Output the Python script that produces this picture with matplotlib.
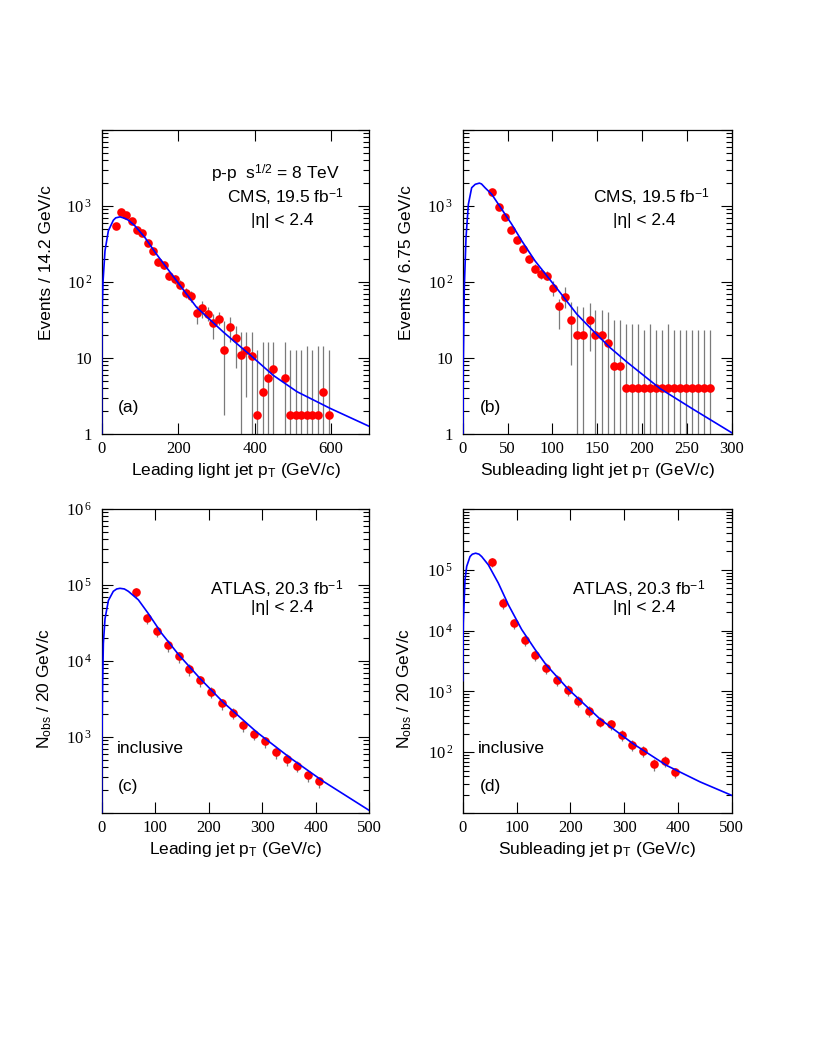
import matplotlib
matplotlib.use('Agg')
import matplotlib.pyplot as plt
from matplotlib.ticker import FixedLocator, FixedFormatter, LogLocator, NullFormatter

plt.rcParams['font.family'] = ['Liberation Sans', 'DejaVu Sans']
plt.rcParams['mathtext.fontset'] = 'custom'
plt.rcParams['mathtext.rm'] = 'Liberation Serif'
plt.rcParams['mathtext.sf'] = 'Liberation Sans'
plt.rcParams['mathtext.it'] = 'Liberation Serif:italic'

# ---- (a) CMS leading light jet
a_x = [36.6, 49.7, 63.6, 78.5, 92.4, 106.3, 120.3, 134.2, 148.2, 163.0, 177.0, 191.0, 205.7,
       219.7, 234.5, 248.4, 263.3, 277.2, 291.1, 306.8, 320.8, 335.6, 350.4, 364.4, 378.3,
       393.1, 407.0, 421.0, 435.0, 449.0, 478.5, 492.5, 507.3, 521.3, 536.1, 550.9, 565.7,
       579.7, 593.6]
a_y = [547, 826, 755, 636, 480, 438, 328, 255, 181, 165, 120, 108, 92, 72, 65, 39, 46, 38, 29,
       33, 12.7, 25.5, 18.1, 10.8, 12.7, 10.7, 1.79, 3.59, 5.47, 7.25, 5.47, 1.79, 1.79, 1.79,
       1.79, 1.79, 1.79, 3.59, 1.79]
a_lo = [500, 780, 710, 595, 445, 405, 300, 232, 163, 148, 106, 95, 80, 62, 55, 27.6, 34, 31,
        17.9, 26.8, 1.8, 16, 7.3, 0.5, 3.1, 0.5, 0.5, 0.5, 0.5, 0.5, 0.5, 0.5, 0.5, 0.5, 0.5,
        0.5, 0.5, 0.5, 0.5]
a_hi = [595, 875, 800, 680, 515, 470, 356, 280, 200, 183, 135, 122, 105, 83, 76, 49, 57, 46.5,
        38, 40, 31, 35, 26.7, 21.9, 21.9, 21.9, 12.6, 16.2, 16.2, 16.2, 16.2, 12.6, 12.6, 12.6,
        14.2, 12.6, 14.2, 14.2, 12.6]
a_cx = [0.03, 0.3, 1, 3.4, 8.6, 17.4, 30.5, 36.6, 48, 61, 70, 87, 113, 140, 166, 192, 248, 318,
        350, 388, 449, 511, 598, 700]
a_cy = [1, 11, 38, 100, 257, 472, 650, 698, 720, 686, 650, 548, 385, 245, 164, 110, 46.6, 22,
        16.0, 11.0, 5.9, 3.6, 2.17, 1.26]

# ---- (b) CMS subleading light jet
b_x = [33.1, 40.1, 46.8, 53.5, 60.2, 66.9, 74.0, 80.3, 87.4, 94.0, 100.7, 107.4, 114.5, 121.2,
       127.5, 134.6, 141.6, 148.0, 155.0, 161.7, 168.4, 175.1, 181.8, 188.6, 195.3, 202.1,
       208.8, 215.6, 222.3, 229.1, 235.8, 242.6, 249.3, 256.1, 262.8, 269.6, 276.3]
b_y = [1510, 970, 717, 490, 359, 271, 198, 150, 127, 121, 83, 48, 64, 31.8, 19.8, 19.8, 31.8,
       19.8, 19.8, 15.9, 7.85, 7.85, 4.0, 4.0, 4.0, 4.0, 4.0, 4.0, 4.0, 4.0, 4.0, 4.0, 4.0, 4.0,
       4.0, 4.0, 4.0]
b_lo = [1400, 900, 660, 450, 325, 243, 176, 132, 110, 105, 66, 24, 46, 8.0, 0.5, 0.5, 12.4,
        0.5, 0.5, 0.5, 0.5, 0.5, 0.5, 0.5, 0.5, 0.5, 0.5, 0.5, 0.5, 0.5, 0.5, 0.5, 0.5, 0.5,
        0.5, 0.5, 0.5]
b_hi = [1620, 1040, 775, 530, 393, 300, 222, 170, 155, 140, 104, 60, 85, 54, 49, 47.6, 52.6,
        43, 43, 40, 31.8, 31.8, 27.7, 27.7, 27.7, 23.5, 27.7, 23.5, 23.5, 27.7, 23.5, 23.5,
        23.5, 23.5, 23.5, 23.5, 23.5]
b_cx = [0.3, 0.7, 1.8, 3.7, 6.3, 10, 14, 18.6, 21, 24.9, 32.3, 43.5, 54.6, 65.8, 80.6, 108.5,
        127.1, 145.7, 164.3, 182.9, 220, 257.2, 300]
b_cy = [1, 9.3, 85, 385, 1050, 1740, 1930, 2000, 1950, 1740, 1430, 908, 577, 349, 190, 73, 38,
        22.6, 13.7, 8.9, 3.97, 2.11, 1.04]

# ---- (c) ATLAS leading jet
c_x = [64.8, 84.1, 103.4, 123.9, 143.8, 163.8, 184.3, 204.9, 224.8, 244.7, 264.6, 284.6,
       304.5, 325.0, 345.6, 365.5, 385.4, 405.4]
c_y = [80300, 36900, 24800, 16300, 11500, 7880, 5560, 3960, 2790, 2070, 1420, 1100, 879, 627,
       513, 416, 312, 261]
c_lo = [68000, 30500, 20500, 13300, 9300, 6400, 4550, 3250, 2300, 1700, 1170, 900, 720, 515,
        420, 345, 258, 216]
c_hi = [90000, 42000, 28500, 18800, 13300, 9100, 6400, 4550, 3200, 2400, 1640, 1270, 1010,
        720, 590, 480, 360, 300]
c_cx = [0.05, 0.5, 1.5, 3.1, 6.2, 12.5, 21.7, 28, 34.2, 42.3, 49.8, 68.5, 87.2, 112, 143.8,
        184.3, 227.3, 289.6, 351.8, 414, 500]
c_cy = [100, 1000, 4000, 17000, 36000, 62500, 82600, 88700, 90400, 88700, 82600, 63800, 42000,
        23100, 12100, 5830, 2850, 1160, 533, 261, 108]

# ---- (d) ATLAS subleading jet
d_x = [55.1, 74.4, 94.8, 115.3, 135.1, 154.9, 175.3, 195.2, 215.0, 235.5, 255.3, 275.1, 295.5,
       315.4, 334.6, 355.0, 375.5, 395.3]
d_y = [135000, 28400, 13100, 7060, 3960, 2460, 1560, 1060, 700, 480, 317, 287, 192, 132, 104,
       62.9, 71.2, 46.5]
d_lo = [112000, 23000, 10600, 5600, 3150, 1950, 1240, 850, 560, 385, 255, 230, 153, 106, 83,
        50, 57, 37]
d_hi = [158000, 34000, 15800, 8500, 4750, 2950, 1870, 1270, 840, 575, 380, 345, 230, 158, 125,
        76, 86, 56]
d_cx = [0.2, 1.1, 4.3, 7.4, 13.6, 17.9, 24.1, 30.3, 35.3, 47.6, 66.2, 84.8, 109.7, 134.4, 154.9,
        195.2, 255.3, 317.2, 379.2, 441.2, 500]
d_cy = [1500, 13400, 68500, 113500, 165000, 180700, 187500, 180700, 165000, 120800, 60500,
        26700, 10400, 4910, 2750, 1110, 351, 137, 60.4, 32.5, 19.5]

fig = plt.figure(figsize=(8.17, 10.58), dpi=100)

W = 1058.0
def box(left, right, top, bottom):
    return [left / 817.0, 1 - bottom / W, (right - left) / 817.0, (bottom - top) / W]

panels = [
    dict(pos=box(101.7, 369.3, 130, 434), x=a_x, y=a_y, lo=a_lo, hi=a_hi, cx=a_cx, cy=a_cy,
         xlim=(0, 700), xt=[0, 200, 400, 600], ylim=(1, 1e4),
         yt=[1, 10, 100, 1000, 1e4], ytl=['1', '10', r'$10^{\,2}$', r'$10^{\,3}$', ''],
         xlabel=r'Leading light jet p$_{\mathsf{T}}$ (GeV/c)', ylabel='Events / 14.2 GeV/c',
         ylab_y=0.5625, tag='(a)'),
    dict(pos=box(462.7, 731.7, 130, 434), x=b_x, y=b_y, lo=b_lo, hi=b_hi, cx=b_cx, cy=b_cy,
         xlim=(0, 300), xt=[0, 50, 100, 150, 200, 250, 300], ylim=(1, 1e4),
         yt=[1, 10, 100, 1000, 1e4], ytl=['1', '10', r'$10^{\,2}$', r'$10^{\,3}$', ''],
         xlabel=r'Subleading light jet p$_{\mathsf{T}}$ (GeV/c)', ylabel='Events / 6.75 GeV/c',
         ylab_y=0.5625, tag='(b)'),
    dict(pos=box(101.7, 369.3, 509, 813), x=c_x, y=c_y, lo=c_lo, hi=c_hi, cx=c_cx, cy=c_cy,
         xlim=(0, 500), xt=[0, 100, 200, 300, 400, 500], ylim=(100, 1e6),
         yt=[100, 1e3, 1e4, 1e5, 1e6],
         ytl=['', r'$10^{\,3}$', r'$10^{\,4}$', r'$10^{\,5}$', r'$10^{\,6}$'],
         xlabel=r'Leading jet p$_{\mathsf{T}}$ (GeV/c)',
         ylabel=r'N$_{\mathsf{obs}}$ / 20 GeV/c', ylab_y=0.41, tag='(c)'),
    dict(pos=box(462.7, 731.7, 509, 813), x=d_x, y=d_y, lo=d_lo, hi=d_hi, cx=d_cx, cy=d_cy,
         xlim=(0, 500), xt=[0, 100, 200, 300, 400, 500], ylim=(10, 1e6),
         yt=[10, 100, 1e3, 1e4, 1e5, 1e6],
         ytl=['', r'$10^{\,2}$', r'$10^{\,3}$', r'$10^{\,4}$', r'$10^{\,5}$', ''],
         xlabel=r'Subleading jet p$_{\mathsf{T}}$ (GeV/c)',
         ylabel=r'N$_{\mathsf{obs}}$ / 20 GeV/c', ylab_y=0.41, tag='(d)'),
]

axes = []
for p in panels:
    ax = fig.add_axes(p['pos'])
    ax.set_yscale('log')
    ax.vlines(p['x'], p['lo'], p['hi'], color='#7a7a7a', lw=0.9, zorder=1)
    ax.plot(p['x'], p['y'], 'o', color='red', ms=6.2, mec='none', zorder=3)
    ax.plot(p['cx'], p['cy'], color='#0000ff', lw=1.2, zorder=4)
    ax.set_xlim(*p['xlim'])
    ax.set_ylim(*p['ylim'])
    ax.xaxis.set_major_locator(FixedLocator(p['xt']))
    ax.yaxis.set_major_locator(FixedLocator(p['yt']))
    ax.yaxis.set_major_formatter(FixedFormatter(p['ytl']))
    ax.yaxis.set_minor_locator(LogLocator(base=10, subs=range(2, 10), numticks=20))
    ax.yaxis.set_minor_formatter(NullFormatter())
    ax.tick_params(which='both', direction='in', top=True, right=True,
                   labelsize=12, labelfontfamily='Liberation Serif', width=0.8)
    ax.tick_params(which='major', length=8)
    ax.tick_params(which='minor', length=4.5)
    ax.tick_params(axis='y', pad=7)
    ax.tick_params(axis='x', pad=5)
    for s in ax.spines.values():
        s.set_linewidth(0.9)
    ax.set_xlabel(p['xlabel'], fontsize=12.5, labelpad=3)
    ax.set_ylabel(p['ylabel'], fontsize=12.5)
    ax.yaxis.set_label_coords(-0.18, p['ylab_y'])
    ax.text(0.062, 0.073, p['tag'], transform=ax.transAxes, fontsize=12.5)
    axes.append(ax)

ax_a, ax_b, ax_c, ax_d = axes
fs = 12.5
ax_a.text(0.648, 0.836, r'p-p  s$^{\mathsf{1/2}}$ = 8 TeV', transform=ax_a.transAxes,
          ha='center', fontsize=fs)
ax_a.text(0.685, 0.760, r'CMS, 19.5 fb$^{\mathsf{-1}}$', transform=ax_a.transAxes,
          ha='center', fontsize=fs)
ax_a.text(0.676, 0.6875, '|η| < 2.4', transform=ax_a.transAxes, ha='center', fontsize=fs)

ax_b.text(0.703, 0.760, r'CMS, 19.5 fb$^{\mathsf{-1}}$', transform=ax_b.transAxes,
          ha='center', fontsize=fs)
ax_b.text(0.674, 0.6875, '|η| < 2.4', transform=ax_b.transAxes, ha='center', fontsize=fs)

for ax in (ax_c, ax_d):
    ax.text(0.655, 0.717, r'ATLAS, 20.3 fb$^{\mathsf{-1}}$', transform=ax.transAxes,
            ha='center', fontsize=fs)
    ax.text(0.675, 0.661, '|η| < 2.4', transform=ax.transAxes, ha='center', fontsize=fs)
    ax.text(0.056, 0.197, 'inclusive', transform=ax.transAxes, fontsize=fs)

fig.savefig('out.png', dpi=100)
